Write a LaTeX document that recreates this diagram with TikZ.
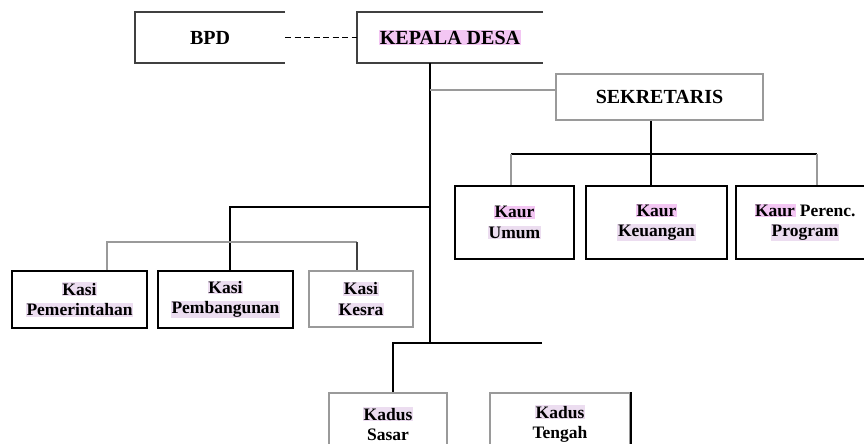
\documentclass[tikz,border=0pt]{standalone}
\usepackage{fontspec}
\setmainfont{Liberation Serif}
\usepackage{xcolor}
\usetikzlibrary{calc}
\definecolor{hlpink}{HTML}{F3C6F3}
\definecolor{hllav}{HTML}{ECDDF0}
\definecolor{edgegray}{HTML}{9A9A9A}
\newcommand{\hlp}[1]{{\setlength{\fboxsep}{0.6pt}\colorbox{hlpink}{#1}}}
\newcommand{\hll}[1]{{\setlength{\fboxsep}{0.6pt}\colorbox{hllav}{#1}}}
\tikzset{
box/.style = {rectangle, inner sep=0pt, align=center, minimum width = #1,
              font=\bfseries\fontsize{17.5}{20.5}\selectfont},
box/.default = 120pt,
headbox/.style = {box=#1, font=\bfseries\fontsize{20}{23}\selectfont},
blackline/.style = {draw=black, line width=2pt},
grayline/.style = {draw=edgegray, line width=1.5pt},
openline/.style = {draw=black!75, line width=1.5pt}
}

\begin{document}
\begin{tikzpicture}[x=1pt, y=-1pt]
  \useasboundingbox (0,0) rectangle (864,444);
  \clip (0,0) rectangle (864,444);

  % Boxes
    \node[headbox=150pt, minimum height=51pt] (bpd) at (210,37.5) {BPD};
    \node[headbox=186pt, minimum height=51pt] (kades) at (450,37.5) {\hlp{KEPALA DESA}};
    \node[headbox=207pt, minimum height=46pt, grayline] (sek) at (659.5,97) {SEKRETARIS};

    \node[box=119pt, minimum height=73pt, blackline] (kaurumum) at (514.5,222.5) {\hlp{Kaur}\\\hll{Umum}};
    \node[box=141pt, minimum height=73pt, blackline] (kaurkeu) at (656.5,222.5) {\hlp{Kaur}\\\hll{Keuangan}};
    \node[box=138pt, minimum height=73pt, blackline] (kaurprog) at (805,222.5) {\hlp{Kaur} Perenc.\\\hll{Program}};

    \node[box=135pt, minimum height=57pt, blackline] (kasipem) at (79.5,299.5) {\hll{Kasi}\\\hll{Pemerintahan}};
    \node[box=135pt, minimum height=57pt, blackline] (kasibang) at (225.5,299.5) {\hll{Kasi}\\\hll{Pembangunan}};
    \node[box=104pt, minimum height=56pt, grayline] (kasikes) at (361,299) {\hll{Kasi}\\\hll{Kesra}};

    \node[box=118pt, minimum height=62pt, grayline] (kadussasar) at (388,424) {\hll{Kadus}\\Sasar};
    \node[box=140pt, minimum height=62pt, grayline] (kadusteng) at (560,424) {\hll{Kadus}\\Tengah};

  % Open sides
    \draw[openline] (bpd.north east) -- (bpd.north west) -- (bpd.south west) -- (bpd.south east);
    \draw[openline] (kades.north east) -- (kades.north west) -- (kades.south west) -- (kades.south east);
    \draw[blackline] (kadusteng.north east) -- (kadusteng.south east);

  % Joints
    \coordinate (spine) at (430,343);
    \coordinate (sekjoin) at (430,90);
    \coordinate (kaurL) at (511,154);
    \coordinate (kaurM) at (651,154);
    \coordinate (kaurR) at (817,154);
    \coordinate (kasiM) at (230,207);
    \coordinate (kasiL) at (107,242);
    \coordinate (kasiR) at (357,242);
    \coordinate (kadusM) at (393,343);
    \coordinate (kadusR) at (542,343);

  % Lines
    \draw[black, line width=1.5pt, dash pattern=on 6pt off 3.5pt] (bpd.east) -- (kades.west);
    \draw[blackline] (kades.south -| spine) -- (spine);
    \draw[grayline] (sekjoin) -- (sek.west |- sekjoin);

    \draw[blackline] (sek.south -| kaurM) -- (kaurkeu.north -| kaurM);
    \draw[blackline] (kaurL) -- (kaurR);
    \draw[grayline] (kaurL) -- (kaurumum.north -| kaurL);
    \draw[grayline] (kaurR) -- (kaurprog.north -| kaurR);

    \draw[blackline] (kasiM -| spine) -- (kasiM) -- (kasibang.north -| kasiM);
    \draw[grayline] (kasipem.north -| kasiL) -- (kasiL) -- (kasiR);
    \draw[openline] (kasiR) -- (kasikes.north -| kasiR);

    \draw[blackline] (kadusR) -- (kadusM) -- (kadussasar.north -| kadusM);
  \end{tikzpicture}
\end{document}
